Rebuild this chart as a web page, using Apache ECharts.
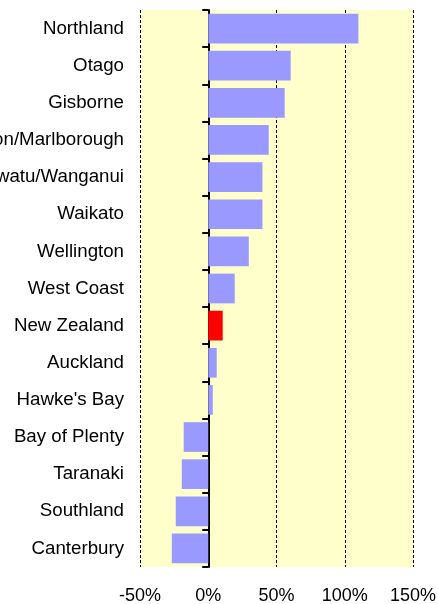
<!DOCTYPE html>
<html>
<head>
<meta charset="utf-8">
<script src="https://cdn.jsdelivr.net/npm/echarts@6/dist/echarts.min.js"></script>
<style>html,body{margin:0;padding:0;background:#fff}#c{width:438px;height:604px}</style>
</head>
<body>
<div id="c"></div>
<script>
const categories = ["Northland","Otago","Gisborne","Nelson/Marlborough","Manawatu/Wanganui","Waikato","Wellington","West Coast","New Zealand","Auckland","Hawke's Bay","Bay of Plenty","Taranaki","Southland","Canterbury"];
const values = [110, 60.4, 56, 44.3, 39.7, 39.7, 29.7, 19.4, 10.6, 6.2, 3.3, -18, -19.4, -23.8, -26.7];
const highlight = "New Zealand";
const xTicks = {min: -50, max: 150, interval: 50};

const chart = echarts.init(document.getElementById('c'), null, {renderer: 'canvas'});
chart.setOption({
  animation: false,
  backgroundColor: '#ffffff',
  grid: {left: 140, right: 25, top: 10, bottom: 37, containLabel: false, outerBoundsMode: 'none', show: true, backgroundColor: '#FFFFCC', borderWidth: 0},
  xAxis: {
    type: 'value', min: xTicks.min, max: xTicks.max, interval: xTicks.interval,
    axisLine: {show: false}, axisTick: {show: false},
    axisLabel: {formatter: '{value}%', fontFamily: 'Liberation Sans, Arial, sans-serif', fontSize: 18, color: '#000', margin: 20, hideOverlap: false},
    splitLine: {show: true, lineStyle: {color: '#000', type: [3, 2], width: 1}}
  },
  yAxis: {
    type: 'category', data: categories, inverse: true,
    axisLine: {show: true, onZero: true, lineStyle: {color: '#000', width: 2}},
    axisTick: {show: true, length: 6, lineStyle: {color: '#000', width: 2}},
    axisLabel: {fontFamily: 'Liberation Sans, Arial, sans-serif', fontSize: 18.7, color: '#000', margin: 16, interval: 0, padding: [3, 0, 0, 0]},
    splitLine: {show: false}
  },
  series: [{
    type: 'bar', barWidth: '80%',
    data: values.map((v, i) => ({value: v, itemStyle: {color: categories[i] === highlight ? '#FF0000' : '#9999FF'}}))
  }]
});
</script>
</body>
</html>
